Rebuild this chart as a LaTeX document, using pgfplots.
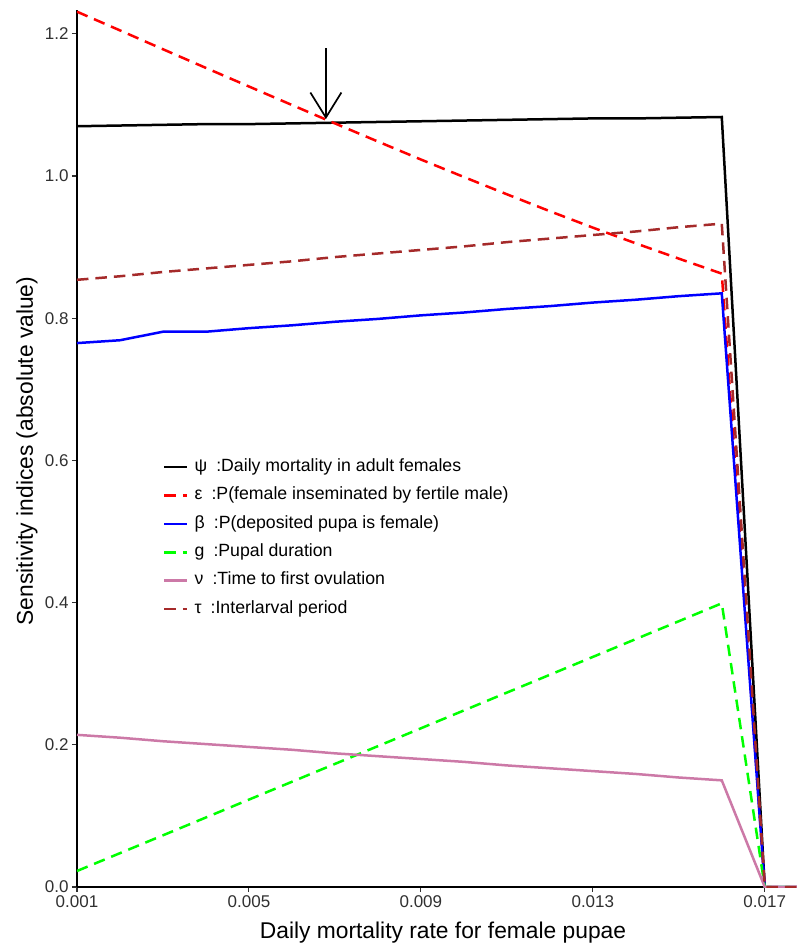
\documentclass[border=0pt]{standalone}
\usepackage{fontspec}
\setmainfont{Liberation Sans}
\usepackage{pgfplots}
\pgfplotsset{compat=1.18}
\usetikzlibrary{arrows.meta,calc}

\definecolor{psicol}{HTML}{000000}
\definecolor{epscol}{HTML}{FF0000}
\definecolor{betacol}{HTML}{0000FF}
\definecolor{gcol}{HTML}{00FF00}
\definecolor{nucol}{HTML}{CC79A7}
\definecolor{taucol}{HTML}{A52A2A}
\definecolor{ticktext}{HTML}{303030}

% sensitivity indices against daily mortality rate of female pupae
\pgfplotstableread{
x      psi    eps     beta   g       nu     tau
0.001  1.070  1.2311  0.765  0.0225  0.214  0.854
0.002  1.071  1.2048  0.769  0.0476  0.210  0.859
0.003  1.072  1.1783  0.781  0.0727  0.205  0.865
0.004  1.073  1.1520  0.781  0.0978  0.201  0.870
0.005  1.073  1.1259  0.786  0.1229  0.197  0.875
0.006  1.074  1.0999  0.790  0.1480  0.193  0.880
0.007  1.075  1.0740  0.795  0.1731  0.188  0.886
0.008  1.076  1.0485  0.799  0.1981  0.184  0.891
0.009  1.077  1.0232  0.804  0.2232  0.180  0.896
0.010  1.078  0.9986  0.808  0.2483  0.176  0.901
0.011  1.079  0.9743  0.813  0.2734  0.171  0.907
0.012  1.080  0.9505  0.817  0.2985  0.167  0.912
0.013  1.081  0.9274  0.822  0.3236  0.163  0.917
0.014  1.081  0.9053  0.826  0.3487  0.159  0.922
0.015  1.082  0.8838  0.831  0.3738  0.154  0.928
0.016  1.083  0.8627  0.835  0.3990  0.150  0.933
0.017  0.000  0.0000  0.000  0.0000  0.000  0.000
0.018  0.000  0.0000  0.000  0.0000  0.000  0.000
}\sens

\newcommand{\sym}[1]{#1\hspace{9pt}}

\begin{document}
\begin{tikzpicture}
\begin{axis}[
  scale only axis,
  width=720pt, height=877pt,
  xmin=0.001, xmax=0.01775,
  ymin=0, ymax=1.2335,
  axis x line*=bottom, axis y line*=left,
  x axis line style={-}, y axis line style={-},
  axis line style={line width=1.7pt, black},
  tick align=outside,
  major tick length=5pt,
  tick style={line width=1.1pt, color=ticktext},
  xtick={0.001,0.005,0.009,0.013,0.017},
  xticklabels={0.001,0.005,0.009,0.013,0.017},
  ytick={0,0.2,0.4,0.6,0.8,1.0,1.2},
  yticklabels={0.0,0.2,0.4,0.6,0.8,1.0,1.2},
  scaled x ticks=false,
  tick label style={font=\fontsize{17}{19}\selectfont, text=ticktext},
  every axis plot/.append style={line width=2.5pt, line join=miter},
  legend cell align=left,
  legend image code/.code={\draw[#1] (0pt,0pt) -- (23pt,0pt);},
  legend style={
    at={(rel axis cs:0.1194,0.489)}, anchor=north west,
    draw=none, fill=none, inner sep=0pt,
    font=\fontsize{17.7}{20}\selectfont,
    row sep=10.9pt,
    nodes={text height=13pt, text depth=4.5pt, inner ysep=0pt, inner xsep=6pt},
  },
]
\coordinate (panelSW) at (rel axis cs:0,0);
\coordinate (panelNE) at (rel axis cs:1,1);

\addplot[psicol] table[x=x, y=psi] {\sens};
\addlegendentry{\sym{ψ}:Daily mortality in adult females}
\addplot[epscol, dash pattern=on 11.5pt off 7pt] table[x=x, y=eps] {\sens};
\addlegendentry{\sym{ε}:P(female inseminated by fertile male)}
\addplot[betacol] table[x=x, y=beta] {\sens};
\addlegendentry{\sym{β}:P(deposited pupa is female)}
\addplot[gcol, dash pattern=on 11.5pt off 7pt] table[x=x, y=g] {\sens};
\addlegendentry{\sym{g}:Pupal duration}
\addplot[nucol] table[x=x, y=nu] {\sens};
\addlegendentry{\sym{ν}:Time to first ovulation}
\addplot[taucol, dash pattern=on 11.5pt off 7pt] table[x=x, y=tau] {\sens};
\addlegendentry{\sym{τ}:Interlarval period}

% arrow marking where the psi and epsilon curves cross
\draw[line width=1.7pt, black,
  -{Straight Barb[length=25pt, width=31pt, line width=1.7pt]}]
  (axis cs:0.00679,1.180) -- (axis cs:0.00679,1.080);
\end{axis}
% axis titles
\node[anchor=base, font=\fontsize{22.8}{25}\selectfont]
  at ($(panelSW)+(366pt,-51pt)$) {Daily mortality rate for female pupae};
\node[anchor=base, rotate=90, font=\fontsize{22.8}{25}\selectfont]
  at ($(panelSW)+(-44pt,436pt)$) {Sensitivity indices (absolute value)};
\pgfresetboundingbox
\path[use as bounding box] ($(panelSW)+(-77pt,-58pt)$) rectangle ($(panelNE)+(0pt,10pt)$);
\end{tikzpicture}
\end{document}
